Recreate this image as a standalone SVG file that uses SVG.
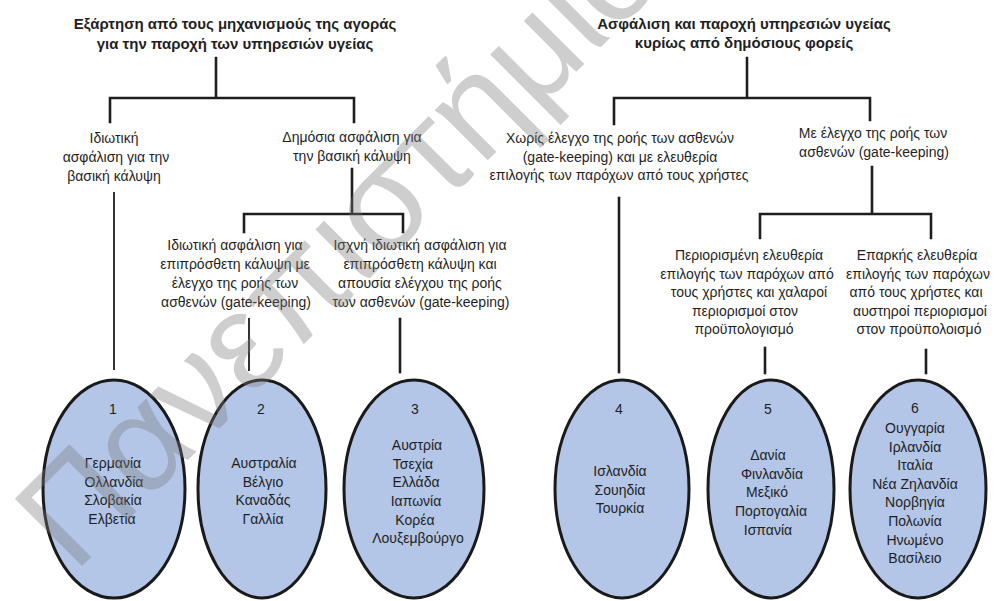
<svg xmlns="http://www.w3.org/2000/svg" width="998" height="601" viewBox="0 0 998 601">
  <style>
    text { font-family: "Liberation Sans", Arial, sans-serif; font-size: 14px; fill: #1f1f1f; text-anchor: middle; }
    .title { font-weight: bold; font-size: 15px; }
    .wire { stroke: #1e1e1e; stroke-width: 2.6; fill: none; stroke-linecap: square; }
    .thin { stroke-width: 1.8; }
    .oval { fill: #b3c6e7; stroke: #1a1a1a; stroke-width: 3; }
    .mark { font-size: 138px; fill: #7a7a7a; opacity: 0.36; text-anchor: start; }
  </style>

  <!-- connectors -->
  <g id="connectors">
    <!-- left tree -->
    <path class="wire" d="M216 58 V98 M110 122 V98 H354 V122"/>
    <path class="wire thin" d="M114 193 V369"/>
    <path class="wire" d="M352 169 V214 M244 232 V214 H403 V232"/>
    <path class="wire thin" d="M249 319 V370"/>
    <path class="wire" d="M400 319 V372"/>
    <!-- right tree -->
    <path class="wire" d="M747 58 V98 M614 124 V98 H870 V120"/>
    <path class="wire" d="M619 198 V372"/>
    <path class="wire" d="M872 167 V214 M760 238 V214 H931 V238"/>
    <path class="wire" d="M765 348 V373"/>
    <path class="wire" d="M926 350 V373"/>
  </g>

  <!-- headings -->
  <g id="root-market">
    <text class="title"><tspan x="235" y="29">Εξάρτηση από τους μηχανισμούς της αγοράς</tspan><tspan x="235" y="49">για την παροχή των υπηρεσιών υγείας</tspan></text>
  </g>
  <g id="root-public">
    <text class="title"><tspan x="744" y="29">Ασφάλιση και παροχή υπηρεσιών υγείας</tspan><tspan x="744" y="48">κυρίως από δημόσιους φορείς</tspan></text>
  </g>

  <!-- branch labels -->
  <g id="private-basic">
    <text><tspan x="114" y="143">Ιδιωτική</tspan><tspan x="116" y="162">ασφάλιση για την</tspan><tspan x="114" y="181">βασική κάλυψη</tspan></text>
  </g>
  <g id="public-basic">
    <text><tspan x="352" y="142">Δημόσια ασφάλιση για</tspan><tspan x="352" y="161">την βασική κάλυψη</tspan></text>
  </g>
  <g id="supp-gatekeeping">
    <text><tspan x="235" y="250">Ιδιωτική ασφάλιση για</tspan><tspan x="235" y="269">επιπρόσθετη κάλυψη με</tspan><tspan x="235" y="288">έλεγχο της ροής των</tspan><tspan x="236" y="307">ασθενών (gate-keeping)</tspan></text>
  </g>
  <g id="supp-no-gatekeeping">
    <text><tspan x="420" y="250">Ισχνή ιδιωτική ασφάλιση για</tspan><tspan x="420" y="269">επιπρόσθετη κάλυψη και</tspan><tspan x="420" y="288">απουσία ελέγχου της ροής</tspan><tspan x="421" y="307">των ασθενών (gate-keeping)</tspan></text>
  </g>
  <g id="no-gatekeeping">
    <text><tspan x="620" y="143">Χωρίς έλεγχο της ροής των ασθενών</tspan><tspan x="620" y="162">(gate-keeping) και με ελευθερία</tspan><tspan x="619" y="180">επιλογής των παρόχων από τους χρήστες</tspan></text>
  </g>
  <g id="gatekeeping">
    <text><tspan x="873" y="138">Με έλεγχο της ροής των</tspan><tspan x="874" y="157">ασθενών (gate-keeping)</tspan></text>
  </g>
  <g id="limited-choice">
    <text><tspan x="749" y="260">Περιορισμένη ελευθερία</tspan><tspan x="747" y="279">επιλογής των παρόχων από</tspan><tspan x="749" y="297">τους χρήστες και χαλαροί</tspan><tspan x="745" y="316">περιορισμοί στον</tspan><tspan x="744" y="334">προϋπολογισμό</tspan></text>
  </g>
  <g id="ample-choice">
    <text><tspan x="917" y="260">Επαρκής ελευθερία</tspan><tspan x="918" y="279">επιλογής των παρόχων</tspan><tspan x="916" y="297">από τους χρήστες και</tspan><tspan x="920" y="316">αυστηροί περιορισμοί</tspan><tspan x="919" y="334">στον προϋπολοισμό</tspan></text>
  </g>

  <!-- country groups -->
  <g id="group-1">
    <ellipse class="oval" cx="114" cy="489" rx="71" ry="109"/>
    <text><tspan x="113" y="414">1</tspan><tspan x="113" y="468">Γερμανία</tspan><tspan x="114" y="487">Ολλανδία</tspan><tspan x="113" y="505">Σλοβακία</tspan><tspan x="112" y="524">Ελβετία</tspan></text>
  </g>
  <g id="group-2">
    <ellipse class="oval" cx="262" cy="489" rx="64" ry="109"/>
    <text><tspan x="261" y="414">2</tspan><tspan x="264" y="468">Αυστραλία</tspan><tspan x="263" y="487">Βέλγιο</tspan><tspan x="263" y="505">Καναδάς</tspan><tspan x="263" y="524">Γαλλία</tspan></text>
  </g>
  <g id="group-3">
    <ellipse class="oval" cx="414" cy="489" rx="70" ry="109"/>
    <text><tspan x="415" y="414">3</tspan><tspan x="417" y="450">Αυστρία</tspan><tspan x="413" y="469">Τσεχία</tspan><tspan x="416" y="487">Ελλάδα</tspan><tspan x="416" y="506">Ιαπωνία</tspan><tspan x="415" y="525">Κορέα</tspan><tspan x="418" y="543">Λουξεμβούργο</tspan></text>
  </g>
  <g id="group-4">
    <ellipse class="oval" cx="622" cy="489" rx="67" ry="109"/>
    <text><tspan x="619" y="414">4</tspan><tspan x="620" y="476">Ισλανδία</tspan><tspan x="620" y="495">Σουηδία</tspan><tspan x="620" y="513">Τουρκία</tspan></text>
  </g>
  <g id="group-5">
    <ellipse class="oval" cx="771" cy="489" rx="63" ry="109"/>
    <text><tspan x="768" y="414">5</tspan><tspan x="768" y="460">Δανία</tspan><tspan x="772" y="479">Φινλανδία</tspan><tspan x="767" y="497">Μεξικό</tspan><tspan x="771" y="516">Πορτογαλία</tspan><tspan x="768" y="535">Ισπανία</tspan></text>
  </g>
  <g id="group-6">
    <ellipse class="oval" cx="918" cy="489" rx="68" ry="109"/>
    <text><tspan x="915" y="413">6</tspan><tspan x="915" y="433">Ουγγαρία</tspan><tspan x="915" y="452">Ιρλανδία</tspan><tspan x="915" y="470">Ιταλία</tspan><tspan x="915" y="489">Νέα Ζηλανδία</tspan><tspan x="915" y="507">Νορβηγία</tspan><tspan x="915" y="526">Πολωνία</tspan><tspan x="915" y="545">Ηνωμένο</tspan><tspan x="915" y="563">Βασίλειο</tspan></text>
  </g>

  <!-- diagonal watermark -->
  <text class="mark" transform="translate(74,574) rotate(-45)">Πανεπιστήμιο</text>
</svg>
